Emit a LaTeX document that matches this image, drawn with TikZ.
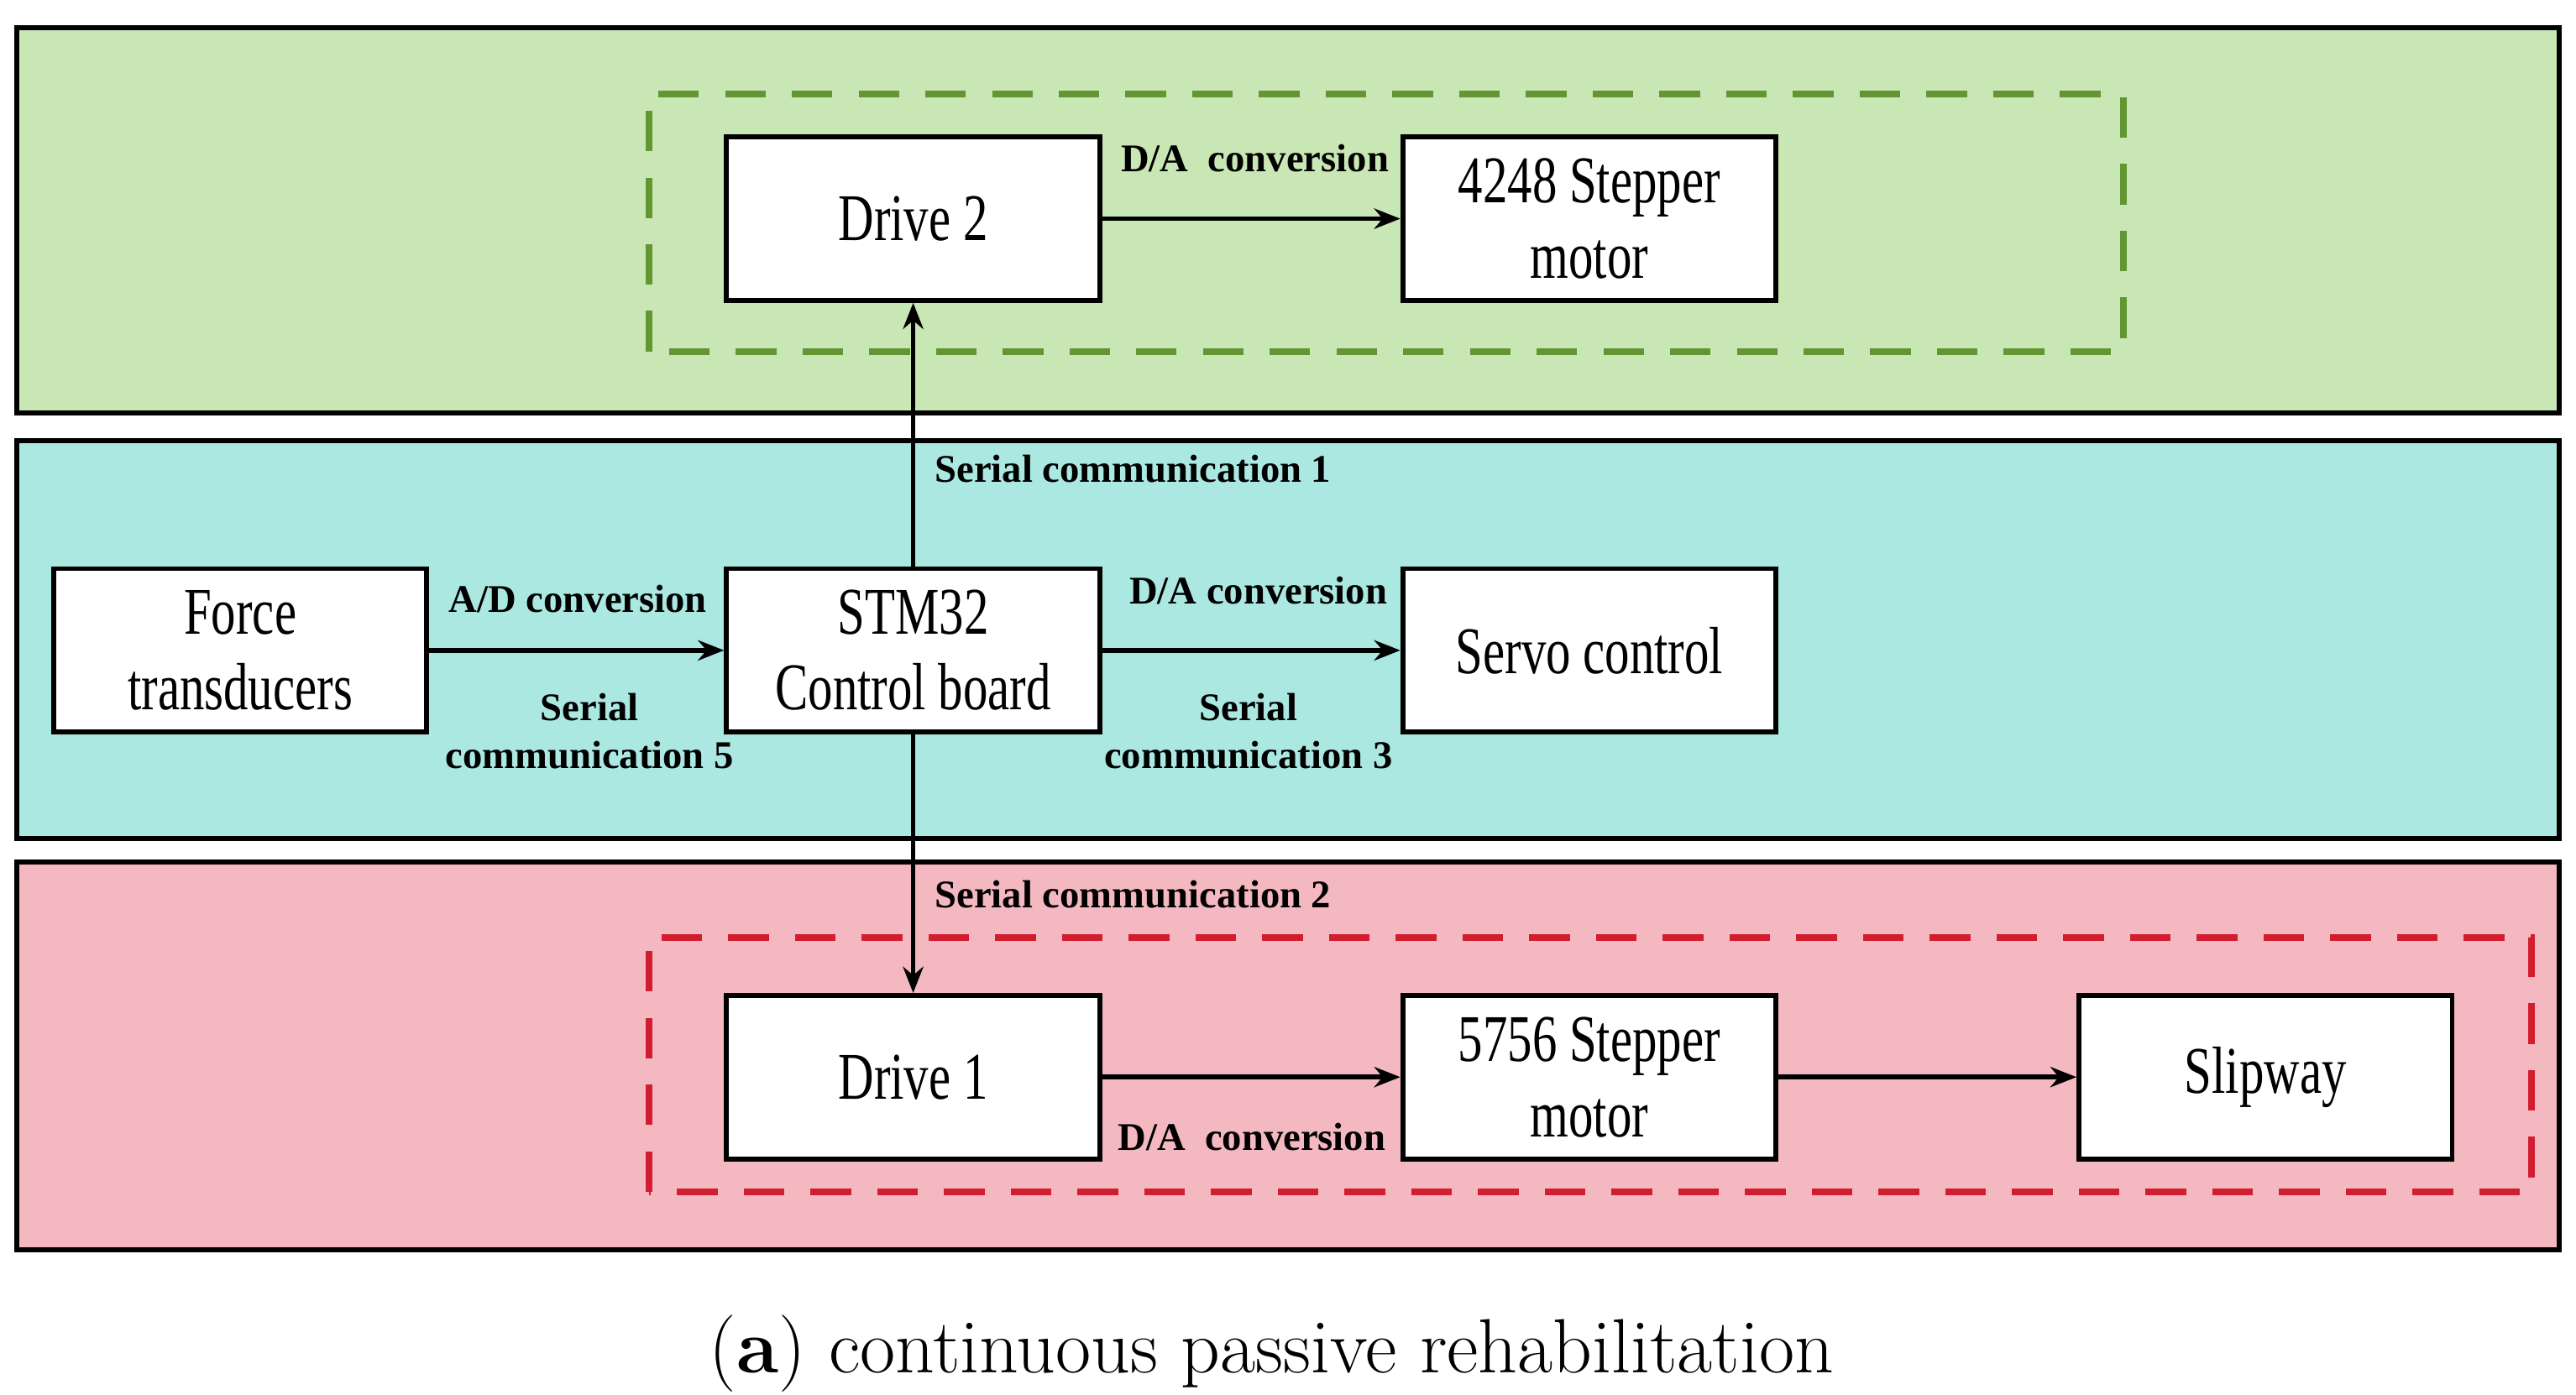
\documentclass[tikz,border=0pt]{standalone}
\usepackage{fontspec}
\usetikzlibrary{arrows.meta}
\newfontfamily\boxfont{Liberation Serif}[FakeStretch=0.74]
\newfontfamily\lblfont{Liberation Serif}
\definecolor{bandgreen}{RGB}{201,230,181}
\definecolor{bandcyan}{RGB}{170,232,225}
\definecolor{bandpink}{RGB}{244,184,192}
\definecolor{dashgreen}{RGB}{98,150,50}
\definecolor{dashred}{RGB}{208,30,48}
\tikzset{
  band/.style={draw=black, line width=1.7pt},
  group/.style={dashed, line width=2.2pt, dash pattern=on 14pt off 9pt},
  block/.style={draw=black, fill=white, line width=1.7pt, minimum width=4.52cm, minimum height=1.98cm,
    align=center, font=\boxfont\fontsize{23}{26}\selectfont},
  link/.style={line width=1.6pt, -{Stealth[length=9pt,width=7pt]}},
  lbl/.style={font=\lblfont\bfseries\fontsize{13.5}{16.5}\selectfont, align=center}
}
\begin{document}
\begin{tikzpicture}
  \useasboundingbox (0,0) rectangle (31.2,16.9);
  % bands
  \filldraw[band, fill=bandgreen] (0.2,11.9) rectangle (31,16.56);
  \filldraw[band, fill=bandcyan] (0.2,6.74) rectangle (31,11.56);
  \filldraw[band, fill=bandpink] (0.2,1.76) rectangle (31,6.46);
  % dashed groups
  \draw[group, draw=dashgreen] (7.86,12.64) rectangle (25.72,15.76);
  \draw[group, draw=dashred] (7.86,2.46) rectangle (30.66,5.54);
  % blocks
  \node[block] (drive2) at (11.06,14.25) {Drive 2};
  \node[block] (step4248) at (19.25,14.25) {4248 Stepper\\motor};
  \node[block] (force) at (2.91,9.02) {Force\\transducers};
  \node[block] (stm) at (11.06,9.02) {STM32\\Control board};
  \node[block] (servo) at (19.25,9.02) {Servo control};
  \node[block] (drive1) at (11.06,3.85) {Drive 1};
  \node[block] (step5756) at (19.25,3.85) {5756 Stepper\\motor};
  \node[block] (slip) at (27.44,3.85) {Slipway};
  % connectors
  \draw[link] (drive2) -- (step4248);
  \draw[link] (stm) -- (drive2);
  \draw[link] (force) -- (stm);
  \draw[link] (stm) -- (servo);
  \draw[link] (stm) -- (drive1);
  \draw[link] (drive1) -- (step5756);
  \draw[link] (step5756) -- (slip);
  % labels
  \node[lbl] (l1) at (15.2,14.98) {D/A\ \ conversion};
  \node[lbl, anchor=west] (l2) at (11.2,11.22) {Serial communication 1};
  \node[lbl] (l3) at (7.0,9.64) {A/D conversion};
  \node[lbl] (l4) at (7.14,8.04) {Serial\\communication 5};
  \node[lbl] (l5) at (15.24,9.74) {D/A conversion};
  \node[lbl] (l6) at (15.12,8.04) {Serial\\communication 3};
  \node[lbl, anchor=west] (l7) at (11.2,6.06) {Serial communication 2};
  \node[lbl] (l8) at (15.16,3.12) {D/A\ \ conversion};
  % caption
  \node[font=\fontsize{26.5}{30}\selectfont] (cap) at (15.4,0.5) {(\textbf{a}) continuous passive rehabilitation};
\end{tikzpicture}
\end{document}
